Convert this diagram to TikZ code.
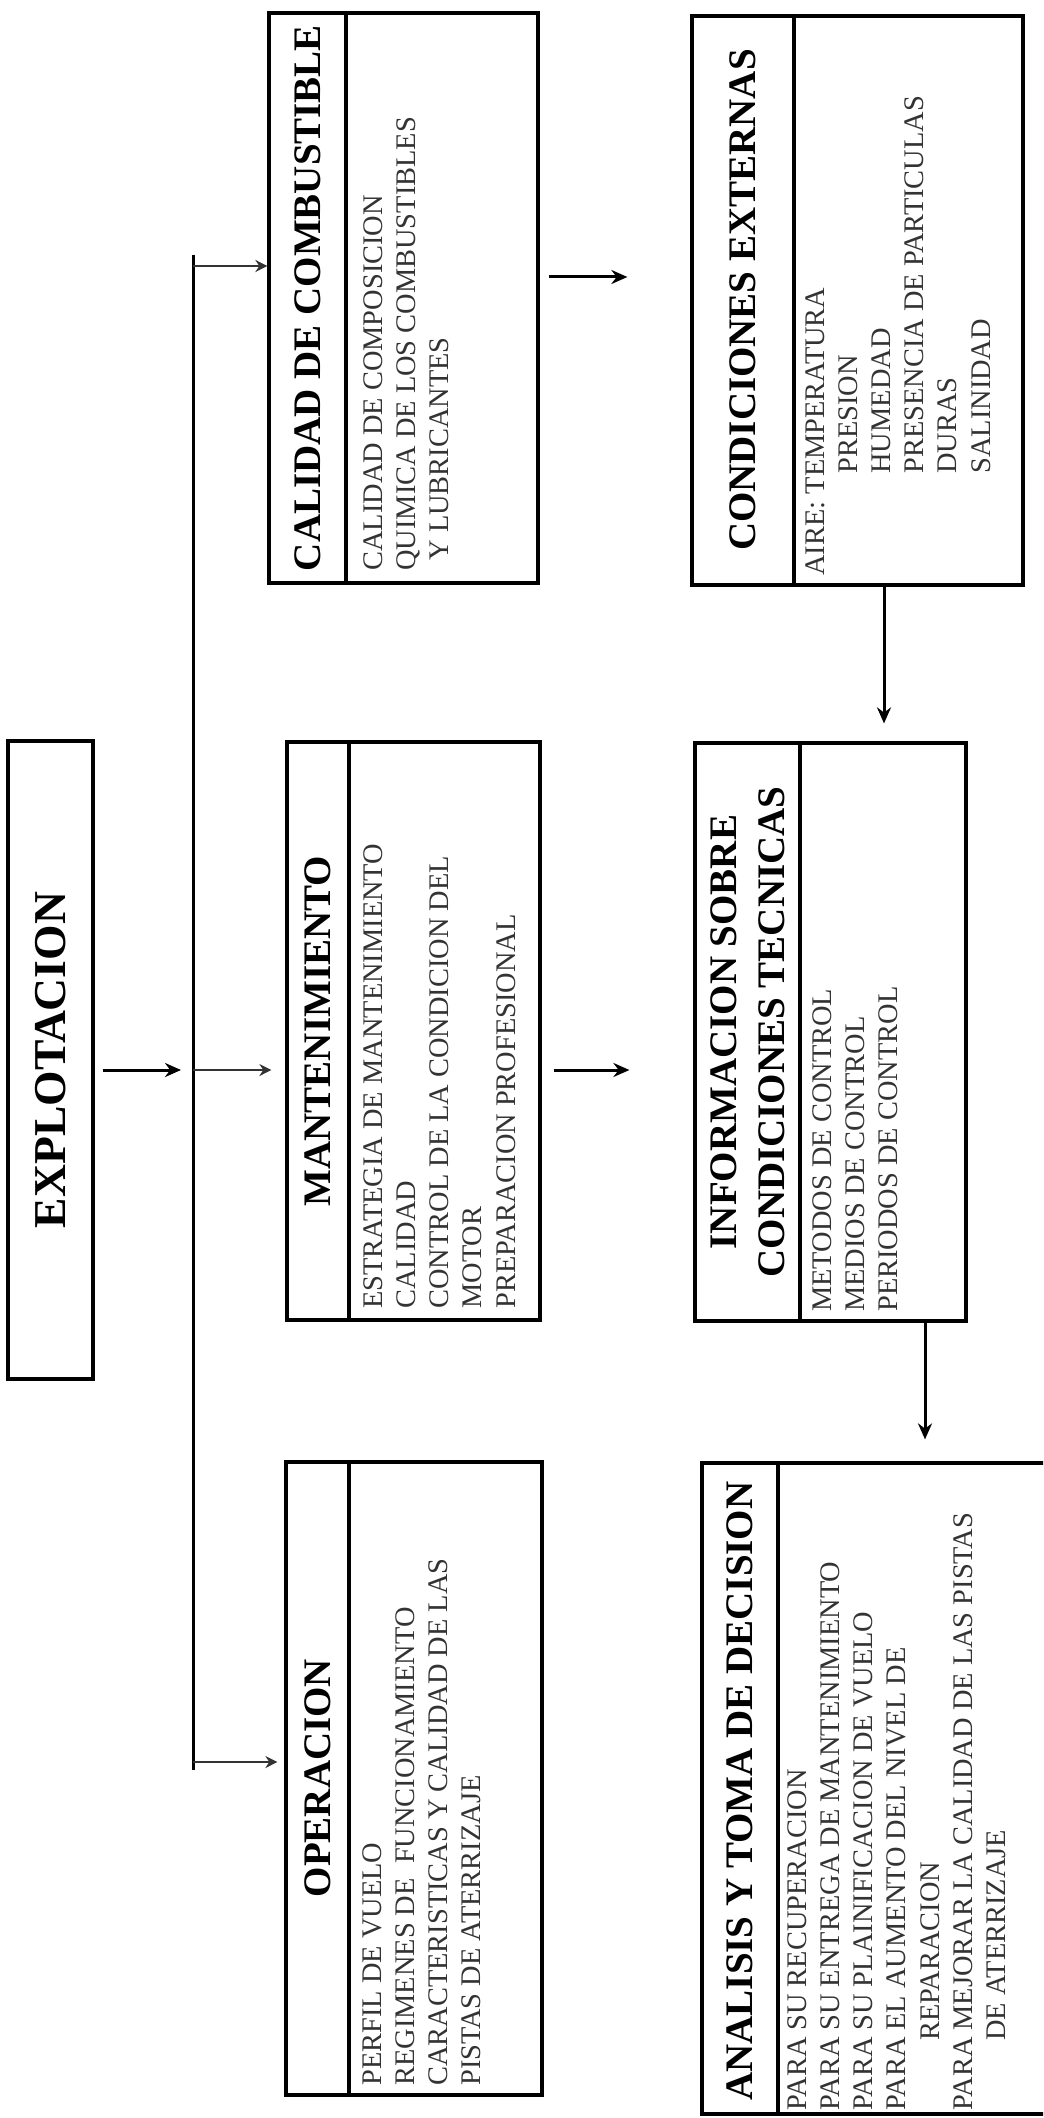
\documentclass[tikz,border=0pt]{standalone}
\usepackage{fontspec}
\setmainfont{Liberation Serif}
\usetikzlibrary{arrows.meta,positioning,fit,calc}

\begin{document}
\begin{tikzpicture}[
  x=0.5pt, y=-0.5pt,
  box/.style={draw, line width=1.6pt, inner sep=0pt},
  divline/.style={line width=2.3pt},
  ttl/.style={rotate=90, align=center, inner sep=0pt, font=\bfseries\fontsize{19.5}{24}\selectfont},
  txt/.style={rotate=90, anchor=north west, align=left, inner sep=0pt, text=black!80, font=\fontsize{14.2}{16.6}\selectfont},
  arr/.style={-{Stealth[length=8pt,width=7pt]}, line width=1.5pt},
  tarr/.style={-{Stealth[length=6pt,width=6pt]}, line width=1.3pt, black!80},
]
\useasboundingbox (0,0) rectangle (1043,2118);
\clip (0,0) rectangle (1043,2118);

\node[box, fit={(8,741) (93,1379)}] (expl) {};
\node[ttl, font=\bfseries\fontsize{22.8}{27}\selectfont] (explt) at (expl.center) {EXPLOTACION};

\node[box, fit={(269,13) (538,583)}] (cal) {};
\draw[divline] (346,13) -- (346,583);
\node[ttl] (calt) at (307.5,298) {CALIDAD DE COMBUSTIBLE};
\node[txt] (calx) at (363,571) {CALIDAD DE COMPOSICION\\QUIMICA DE LOS COMBUSTIBLES\\\hspace*{5pt}Y LUBRICANTES};

\node[box, fit={(287,742) (540,1320)}] (mant) {};
\draw[divline] (349,742) -- (349,1320);
\node[ttl] (mantt) at (318,1031) {MANTENIMIENTO};
\node[txt] (mantx) at (363,1309) {ESTRATEGIA DE MANTENIMIENTO\\CALIDAD\\CONTROL DE LA CONDICION DEL\\MOTOR\\PREPARACION PROFESIONAL};

\node[box, fit={(286,1462) (542,2095)}] (oper) {};
\draw[divline] (349,1462) -- (349,2095);
\node[ttl] (opert) at (317.5,1778) {OPERACION};
\node[txt] (operx) at (362,2086) {PERFIL DE VUELO\\REGIMENES DE\ \ FUNCIONAMIENTO\\CARACTERISTICAS Y CALIDAD DE LAS\\PISTAS DE ATERRIZAJE};

\node[box, fit={(692,16) (1023,585)}] (cond) {};
\draw[divline] (794,16) -- (794,585);
\node[ttl] (condt) at (743,300) {CONDICIONES EXTERNAS};
\node[txt] (condx) at (805,576) {AIRE: TEMPERATURA\\\hspace*{51pt}PRESION\\\hspace*{51pt}HUMEDAD\\\hspace*{51pt}PRESENCIA DE PARTICULAS\\\hspace*{51pt}DURAS\\\hspace*{51pt}SALINIDAD};

\node[box, fit={(695,743) (966,1321)}] (info) {};
\draw[divline] (800,743) -- (800,1321);
\node[ttl] (infot) at (748,1032) {INFORMACION SOBRE\\CONDICIONES TECNICAS};
\node[txt] (infox) at (812,1312) {METODOS DE CONTROL\\MEDIOS DE CONTROL\\PERIODOS DE CONTROL};

\node[box, fit={(702,1463) (1080,2114)}] (anal) {};
\draw[divline] (778,1463) -- (778,2114);
\node[ttl] (analt) at (740,1791) {ANALISIS Y TOMA DE DECISION};
\node[txt] (analx) at (787,2111) {PARA SU RECUPERACION\\PARA SU ENTREGA DE MANTENIMIENTO\\PARA SU PLAINIFICACION DE VUELO\\PARA EL AUMENTO DEL NIVEL DE\\\hspace*{35pt}REPARACION\\PARA MEJORAR LA CALIDAD DE LAS PISTAS\\\hspace*{35pt}DE ATERRIZAJE};

\coordinate (ttop) at (193,255);
\coordinate (tbot) at (193,1770);
\coordinate (jc) at (193,266);
\coordinate (jm) at (193,1070);
\coordinate (jo) at (193,1762);
\coordinate (jk) at (0,277);
\coordinate (jd) at (884,0);
\coordinate (je) at (925,0);

\draw[line width=1.5pt] (ttop) -- (tbot);
\draw[arr, shorten <=4pt, shorten >=6pt] (jm -| expl.east) -- (jm);
\draw[tarr] (jc) -- (jc -| cal.west);
\draw[tarr, shorten >=7pt] (jm) -- (jm -| mant.west);
\draw[tarr, shorten >=3.5pt] (jo) -- (jo -| oper.west);
\draw[arr, shorten <=4.5pt, shorten >=31.5pt] (jk -| cal.east) -- (jk -| cond.west);
\draw[arr, shorten <=6pt, shorten >=32pt] (jm -| mant.east) -- (jm -| info.west);
\draw[arr, shorten >=9pt] (jd |- cond.south) -- (jd |- info.north);
\draw[arr, shorten >=11pt] (je |- info.south) -- (je |- anal.north);
\end{tikzpicture}
\end{document}
